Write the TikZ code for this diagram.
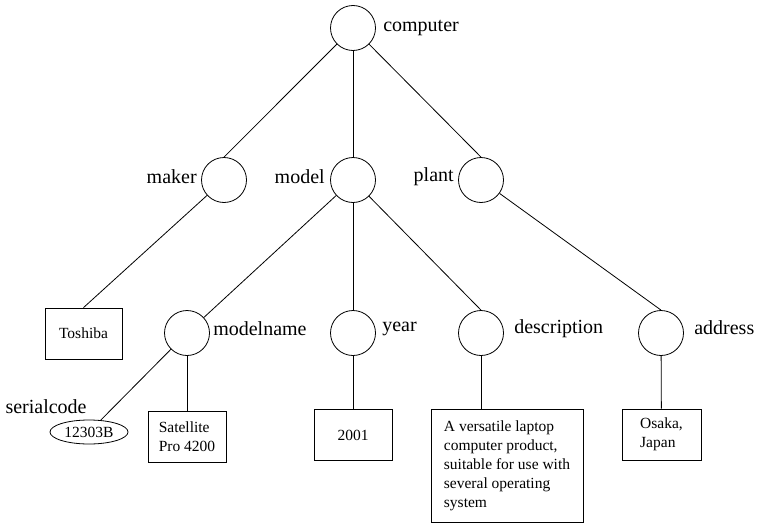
\documentclass[tikz,border=0pt]{standalone}
\usepackage{fontspec}
\setmainfont{Liberation Serif}
\usetikzlibrary{positioning,shapes.geometric}

\begin{document}
\begin{tikzpicture}[x=1pt, y=1pt, line width=0.8pt,
    elem/.style={draw, circle, minimum size=45pt, inner sep=0pt},
    tag/.style={font=\fontsize{20}{22}\selectfont, inner sep=0pt},
    leaf/.style={draw, rectangle, align=left, minimum height=51pt, inner sep=0pt,
      font=\fontsize{15.5}{19}\selectfont}]
  \useasboundingbox (0,0) rectangle (759,-527);

  % element nodes
  \node[elem] (computer) at (353,-28) {};
  \node[elem] (maker) at (224,-180) {};
  \node[elem] (model) at (353,-180) {};
  \node[elem] (plant) at (481,-180) {};
  \node[elem] (modelname) at (187,-333) {};
  \node[elem] (year) at (353,-333) {};
  \node[elem] (description) at (481,-333) {};
  \node[elem] (address) at (661,-333) {};

  % tag names
  \node[tag, right=7pt of computer] (computerlbl) {computer};
  \node[tag, left=4pt of maker, yshift=3pt] (makerlbl) {maker};
  \node[tag, left=5pt of model, yshift=3pt] (modellbl) {model};
  \node[tag, left=4pt of plant, yshift=3pt] (plantlbl) {plant};
  \node[tag, right=3pt of modelname, yshift=4pt] (modelnamelbl) {modelname};
  \node[tag, right=6pt of year, yshift=4pt] (yearlbl) {year};
  \node[tag, right=10pt of description, yshift=4pt] (descriptionlbl) {description};
  \node[tag, right=10pt of address, yshift=5pt] (addresslbl) {address};

  % values
  \node[leaf, minimum width=77pt] (toshiba) at (83.5,-333.5) {Toshiba};
  \node[draw, ellipse, minimum width=78pt, minimum height=24pt, inner sep=0pt,
    font=\fontsize{15.5}{19}\selectfont] (serial) at (89,-432) {12303B};
  \node[tag, anchor=south east] (seriallbl) at ([shift={(-2,6)}]serial.north) {serialcode};
  \node[leaf, minimum width=78pt] (satellite) at (187,-436.5) {Satellite\\Pro 4200};
  \node[leaf, minimum width=78pt] (yearval) at (353,-435) {2001};
  \node[leaf, minimum width=152pt, minimum height=113pt] (descval) at (507,-465.5)
    {A versatile laptop\\computer product,\\suitable for use with\\several operating\\system};
  \node[leaf, minimum width=79pt] (osaka) at (661.5,-434.5) {Osaka,\\Japan};

  % edges
  \draw (computer) -- (maker.north);
  \draw (computer) -- (model);
  \draw (computer) -- (plant.north);
  \draw (maker) -- (toshiba.north);
  \draw (model) -- (modelname);
  \draw (model) -- (year);
  \draw (model) -- (description.north);
  \draw (plant) -- (address.north);
  \draw (modelname) -- (serial);
  \draw (modelname) -- (satellite);
  \draw (year) -- (yearval);
  \draw (description) -- (description |- descval.north);
  \draw (address) -- (osaka);
\end{tikzpicture}
\end{document}
